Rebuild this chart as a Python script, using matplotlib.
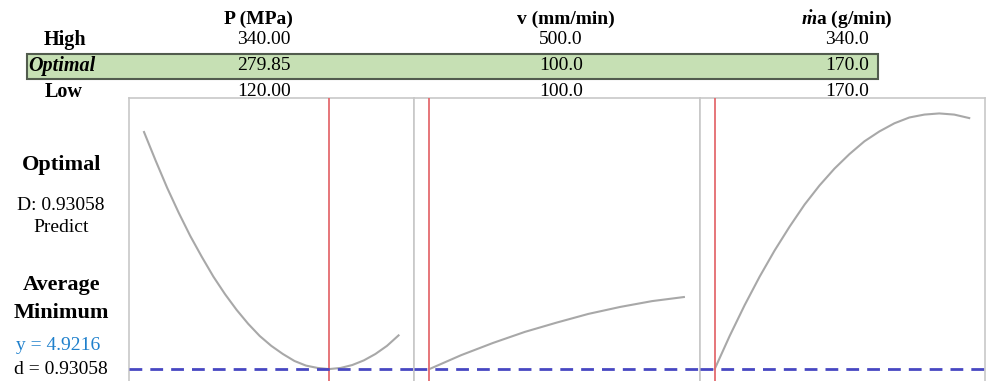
import matplotlib
matplotlib.use('Agg')
import matplotlib.pyplot as plt
from matplotlib.patches import Rectangle

plt.rcParams['font.family'] = ['Liberation Serif', 'DejaVu Serif']
plt.rcParams['mathtext.fontset'] = 'custom'
plt.rcParams['mathtext.it'] = 'Liberation Serif:italic:bold'
plt.rcParams['mathtext.rm'] = 'Liberation Serif:bold'

# factor settings
factors = ['P (MPa)', 'v (mm/min)', r'$\dot{m}$a (g/min)']
high = ['340.00', '500.0', '340.0']
optimal = ['279.85', '100.0', '170.0']
low = ['120.00', '100.0', '170.0']
lo_vals = [120.0, 100.0, 170.0]
hi_vals = [340.0, 500.0, 340.0]
opt_vals = [279.85, 100.0, 170.0]

# predicted response along each factor
pressure = [120, 130, 140, 150, 160, 170, 180, 190, 200, 210, 220, 230,
            240, 250, 260, 270, 279.85, 290, 300, 310, 320, 330, 340]
resp_p = [9.00, 8.51, 8.04, 7.61, 7.21, 6.85, 6.51, 6.21, 5.94, 5.70, 5.49, 5.32,
          5.18, 5.06, 4.98, 4.94, 4.92, 4.94, 4.99, 5.07, 5.18, 5.32, 5.50]
speed = [100, 150, 200, 250, 300, 350, 400, 450, 500]
resp_v = [4.92, 5.16, 5.37, 5.56, 5.72, 5.87, 5.99, 6.09, 6.16]
flow = [170, 180, 190, 200, 210, 220, 230, 240, 250, 260, 270, 280,
        290, 300, 310, 320, 330, 340]
resp_m = [4.92, 5.49, 6.02, 6.51, 6.96, 7.37, 7.75, 8.08, 8.37, 8.62, 8.84, 9.01,
          9.15, 9.25, 9.30, 9.32, 9.30, 9.24]

y_opt = 4.9216
d_opt = 0.93058

W, H = 990, 381
fig = plt.figure(figsize=(W / 100, H / 100), dpi=100)


def fx(px):
    return px / W


def fy(py):
    return 1 - py / H


# settings table
fig.add_artist(Rectangle((fx(27), fy(79)), fx(851), 25 / H, transform=fig.transFigure,
                         facecolor='#c6e0b4', edgecolor='#525c4e', lw=1.5))

fig.text(fx(65), fy(40), 'High', ha='center', va='center', fontsize=14.5, fontweight='bold')
fig.text(fx(28), fy(66), 'Optimal', ha='left', va='center', fontsize=14.5,
         fontweight='bold', fontstyle='italic')
fig.text(fx(64), fy(92), 'Low', ha='center', va='center', fontsize=14.5, fontweight='bold')

head_x = [258, 566, 847]
num_right = [291, 583, 869]
for i in range(3):
    fig.text(fx(head_x[i]), fy(19), factors[i], ha='center', va='center',
             fontsize=14, fontweight='bold')
    for row, yy in zip([high, optimal, low], [40, 66, 92]):
        fig.text(fx(num_right[i]), fy(yy), row[i], ha='right', va='center', fontsize=14)

# left labels
fig.text(fx(62), fy(165), 'Optimal', ha='center', va='center', fontsize=16, fontweight='bold')
fig.text(fx(61), fy(205), 'D: %.5f' % d_opt, ha='center', va='center', fontsize=14)
fig.text(fx(61), fy(227), 'Predict', ha='center', va='center', fontsize=14)
fig.text(fx(62), fy(285), 'Average', ha='center', va='center', fontsize=16, fontweight='bold')
fig.text(fx(61), fy(313), 'Minimum', ha='center', va='center', fontsize=16, fontweight='bold')
fig.text(fx(58), fy(345), 'y = %.4f' % y_opt, ha='center', va='center', fontsize=14,
         color='#1f80cc')
fig.text(fx(61), fy(369), 'd = %.5f' % d_opt, ha='center', va='center', fontsize=14)

# response panels
curves = [(pressure, resp_p), (speed, resp_v), (flow, resp_m)]
left, right, top = 129, 985, 98
pw = (right - left) / 3
px_per_unit = 0.01721
for i, (xs, ys) in enumerate(curves):
    ax = fig.add_axes([fx(left + i * pw), 0, pw / W, (H - top) / H])
    rng = hi_vals[i] - lo_vals[i]
    ax.set_xlim(lo_vals[i] - 0.059 * rng, hi_vals[i] + 0.062 * rng)
    ax.set_ylim(y_opt - 12 * px_per_unit, y_opt + (H - top - 12) * px_per_unit)
    ax.plot(xs, ys, color='#a8a8a8', lw=1.5, zorder=2)
    ax.axvline(opt_vals[i], color='#e46a6e', lw=1.3, zorder=3)
    ax.axhline(y_opt, color='#4747c2', lw=2.0, dashes=(4.6, 2.9), zorder=4)
    ax.set_xticks([])
    ax.set_yticks([])
    for side in ['left', 'right', 'top']:
        ax.spines[side].set_color('#c8c8c8')
        ax.spines[side].set_linewidth(1.2)
    ax.spines['bottom'].set_visible(False)

fig.savefig('out.png', dpi=100)
